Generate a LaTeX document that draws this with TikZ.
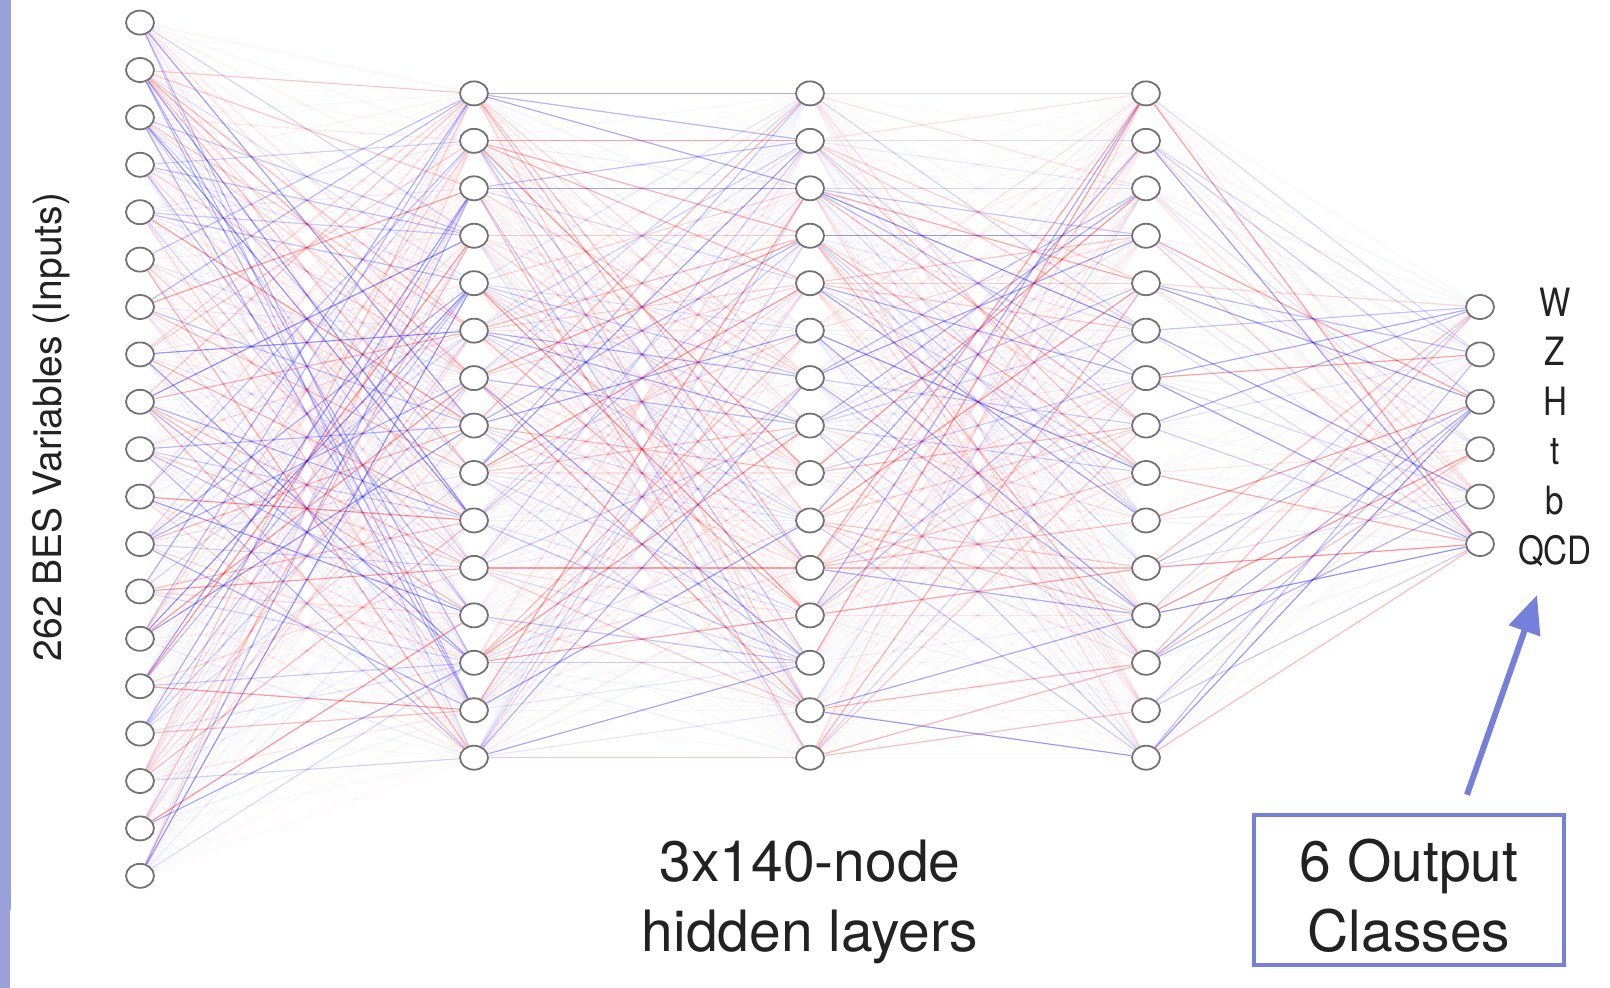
\documentclass[tikz,border=0pt]{standalone}
\usepackage{fontspec}
\setmainfont{TeX Gyre Heros}
\usetikzlibrary{shapes.geometric,arrows.meta,positioning}
\pgfdeclarelayer{background}
\pgfsetlayers{background,main}
\definecolor{barblue}{RGB}{155,160,216}
\definecolor{boxblue}{RGB}{117,128,219}
\definecolor{textgray}{RGB}{34,34,34}
\definecolor{ringgray}{RGB}{115,115,115}

\begin{document}
\begin{tikzpicture}[x=1pt,y=-1pt,
    neuron/.style={ellipse,draw=ringgray,line width=1.8pt,fill=white,minimum width=28pt,minimum height=24pt,inner sep=0pt},
    wire0/.style={red,line width=1.2pt}, wire1/.style={blue,line width=1.2pt},
    class text/.style={text=textgray,text height=28pt,text depth=0pt,font=\fontsize{39}{39}\addfontfeatures{FakeStretch=0.85}\selectfont},
    big text/.style={text=textgray,align=center,font=\fontsize{57}{70}\selectfont}]

\useasboundingbox (0,0) rectangle (1610,988);
\fill[barblue] (0,0) rectangle (11,910);
\fill[barblue] (0,910) rectangle (10,988);

\foreach \i in {1,...,19} \node[neuron] (in\i) at (140,{22.6+47.4*(\i-1)}) {};
\foreach \l/\x in {a/474,b/810,c/1146}
  \foreach \j in {1,...,15} \node[neuron] (\l\j) at (\x,{93.4+47.45*(\j-1)}) {};
\foreach \k/\name in {1/W,2/Z,3/H,4/t,5/b,6/QCD} {
  \node[neuron] (out\k) at (1480,{307+47.4*(\k-1)}) {};
  \node[class text] (cls\k) at (1555,{302+49.6*(\k-1)}) {\name};
}

\pgfmathsetseed{262}
\begin{pgfonlayer}{background}
\foreach \i in {1,...,19}
  \foreach \j in {1,...,15} {
    \pgfmathsetmacro\wt{rnd}
    \pgfmathsetmacro\op{0.03+0.4*\wt*\wt*\wt}
    \pgfmathtruncatemacro\hue{rnd<0.5}
    \draw[wire\hue,opacity=\op] (in\i) -- (a\j);
  }
\foreach \p/\q in {a/b,b/c}
  \foreach \i in {1,...,15}
    \foreach \j in {1,...,15} {
      \pgfmathsetmacro\wt{rnd}
      \pgfmathsetmacro\op{0.03+0.4*\wt*\wt*\wt}
      \pgfmathtruncatemacro\hue{rnd<0.5}
      \draw[wire\hue,opacity=\op] (\p\i) -- (\q\j);
    }
\foreach \i in {1,...,15}
  \foreach \k in {1,...,6} {
    \pgfmathsetmacro\wt{rnd}
    \pgfmathsetmacro\op{0.03+0.4*\wt*\wt*\wt}
    \pgfmathtruncatemacro\hue{rnd<0.5}
    \draw[wire\hue,opacity=\op] (c\i) -- (out\k);
  }
\end{pgfonlayer}

\node[text=textgray,rotate=90,font=\fontsize{39}{39}\selectfont] (intext) at (51,427) {262 BES Variables (Inputs)};
\node[big text] (hidtext) at (810,902) {3x140-node\\hidden layers};
\node[draw=boxblue,line width=4.5pt,minimum width=310pt,minimum height=150pt] (outbox) at (1409,890) {};
\node[big text,text depth=0pt] (boxtext) at ([yshift=-5pt]outbox.center) {6 Output\\Classes};
\coordinate (tip) at (1537,595);
\draw[boxblue,line width=6pt,-{Triangle[length=38pt,width=32pt]}] ([xshift=58pt,yshift=18pt]outbox.north) -- (tip);
\end{tikzpicture}
\end{document}
